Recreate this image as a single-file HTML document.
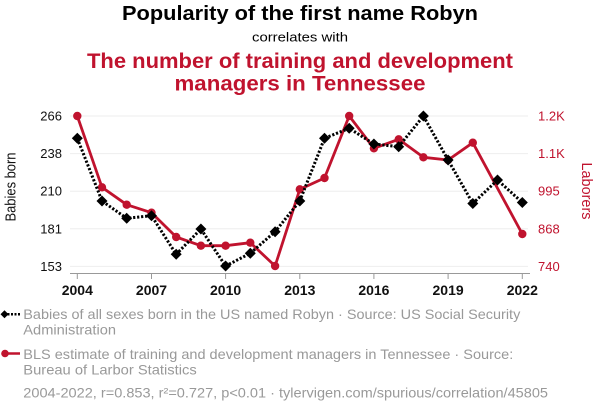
<!DOCTYPE html>
<html><head><meta charset="utf-8"><style>
html,body{margin:0;padding:0;background:#fff;}
svg{display:block;}
text{font-family:"Liberation Sans",Arial,sans-serif;}
</style></head><body>
<svg width="600" height="414" viewBox="0 0 600 414" xmlns="http://www.w3.org/2000/svg">
<rect width="600" height="414" fill="#fff"/>
<text x="300" y="20" text-anchor="middle" font-size="20" font-weight="bold" fill="#000" textLength="356" lengthAdjust="spacingAndGlyphs">Popularity of the first name Robyn</text>
<text x="300" y="41.5" text-anchor="middle" font-size="13" fill="#000" textLength="96" lengthAdjust="spacingAndGlyphs">correlates with</text>
<text x="300" y="68" text-anchor="middle" font-size="21" font-weight="bold" fill="#c0132e" textLength="426" lengthAdjust="spacingAndGlyphs">The number of training and development</text>
<text x="300" y="90.5" text-anchor="middle" font-size="21" font-weight="bold" fill="#c0132e" textLength="251" lengthAdjust="spacingAndGlyphs">managers in Tennessee</text>

<g stroke="#eeeeee" stroke-width="1">
<line x1="70" y1="116" x2="528" y2="116"/>
<line x1="70" y1="153.6" x2="528" y2="153.6"/>
<line x1="70" y1="191.2" x2="528" y2="191.2"/>
<line x1="70" y1="228.8" x2="528" y2="228.8"/>
<line x1="70" y1="266.4" x2="528" y2="266.4"/>
</g>
<g stroke="#999" stroke-width="1">
<line x1="70" y1="273.5" x2="530" y2="273.5"/>
<line x1="77.3" y1="273.5" x2="77.3" y2="279"/>
<line x1="151.5" y1="273.5" x2="151.5" y2="279"/>
<line x1="225.6" y1="273.5" x2="225.6" y2="279"/>
<line x1="299.8" y1="273.5" x2="299.8" y2="279"/>
<line x1="373.9" y1="273.5" x2="373.9" y2="279"/>
<line x1="448.1" y1="273.5" x2="448.1" y2="279"/>
<line x1="522.3" y1="273.5" x2="522.3" y2="279"/>
</g>
<g font-size="13" fill="#111" text-anchor="end">
<text x="62" y="120.5">266</text>
<text x="62" y="158.1">238</text>
<text x="62" y="195.7">210</text>
<text x="62" y="233.3">181</text>
<text x="62" y="270.9">153</text>
</g>
<g font-size="13" fill="#c0132e" text-anchor="start">
<text x="538" y="120.5">1.2K</text>
<text x="538" y="158.1">1.1K</text>
<text x="538" y="195.7">995</text>
<text x="538" y="233.3">868</text>
<text x="538" y="270.9">740</text>
</g>
<g font-size="14" font-weight="bold" fill="#111" text-anchor="middle">
<text x="77.3" y="295">2004</text>
<text x="151.5" y="295">2007</text>
<text x="225.6" y="295">2010</text>
<text x="299.8" y="295">2013</text>
<text x="373.9" y="295">2016</text>
<text x="448.1" y="295">2019</text>
<text x="522.3" y="295">2022</text>
</g>
<text transform="translate(15.5,187) rotate(-90)" text-anchor="middle" font-size="15" fill="#111" textLength="69" lengthAdjust="spacingAndGlyphs">Babies born</text>
<text transform="translate(582,191) rotate(90)" text-anchor="middle" font-size="14.5" fill="#c0132e" textLength="57" lengthAdjust="spacingAndGlyphs">Laborers</text>

<polyline fill="none" stroke="#c0132e" stroke-width="2.8" stroke-linejoin="round" points="77.3,116 102,187.3 126.7,204.7 151.5,212.7 176.2,237 200.9,245.7 225.6,245.7 250.3,242.7 275.1,266 299.8,189.3 324.5,178 349.2,116 373.9,148.3 398.7,139.3 423.4,157.3 448.1,160 472.8,142.7 522.3,234"/>
<g fill="#c0132e">
<circle cx="77.3" cy="116" r="4.2"/><circle cx="102" cy="187.3" r="4.2"/><circle cx="126.7" cy="204.7" r="4.2"/><circle cx="151.5" cy="212.7" r="4.2"/><circle cx="176.2" cy="237" r="4.2"/><circle cx="200.9" cy="245.7" r="4.2"/><circle cx="225.6" cy="245.7" r="4.2"/><circle cx="250.3" cy="242.7" r="4.2"/><circle cx="275.1" cy="266" r="4.2"/><circle cx="299.8" cy="189.3" r="4.2"/><circle cx="324.5" cy="178" r="4.2"/><circle cx="349.2" cy="116" r="4.2"/><circle cx="373.9" cy="148.3" r="4.2"/><circle cx="398.7" cy="139.3" r="4.2"/><circle cx="423.4" cy="157.3" r="4.2"/><circle cx="448.1" cy="160" r="4.2"/><circle cx="472.8" cy="142.7" r="4.2"/><circle cx="522.3" cy="234" r="4.2"/>
</g>

<polyline fill="none" stroke="#000" stroke-width="3" stroke-dasharray="2.2,1.8" points="77.3,138.3 102,201 126.7,218.3 151.5,215.7 176.2,254.3 200.9,229 225.6,266 250.3,253.3 275.1,231.7 299.8,201 324.5,138.3 349.2,128.3 373.9,144 398.7,146.7 423.4,116 448.1,160 472.8,203.5 497.5,180 522.3,202.5"/>
<g fill="#000">
<path d="M77.3,132.8 l5.5,5.5 l-5.5,5.5 l-5.5,-5.5z"/>
<path d="M102,195.5 l5.5,5.5 l-5.5,5.5 l-5.5,-5.5z"/>
<path d="M126.7,212.8 l5.5,5.5 l-5.5,5.5 l-5.5,-5.5z"/>
<path d="M151.5,210.2 l5.5,5.5 l-5.5,5.5 l-5.5,-5.5z"/>
<path d="M176.2,248.8 l5.5,5.5 l-5.5,5.5 l-5.5,-5.5z"/>
<path d="M200.9,223.5 l5.5,5.5 l-5.5,5.5 l-5.5,-5.5z"/>
<path d="M225.6,260.5 l5.5,5.5 l-5.5,5.5 l-5.5,-5.5z"/>
<path d="M250.3,247.8 l5.5,5.5 l-5.5,5.5 l-5.5,-5.5z"/>
<path d="M275.1,226.2 l5.5,5.5 l-5.5,5.5 l-5.5,-5.5z"/>
<path d="M299.8,195.5 l5.5,5.5 l-5.5,5.5 l-5.5,-5.5z"/>
<path d="M324.5,132.8 l5.5,5.5 l-5.5,5.5 l-5.5,-5.5z"/>
<path d="M349.2,122.8 l5.5,5.5 l-5.5,5.5 l-5.5,-5.5z"/>
<path d="M373.9,138.5 l5.5,5.5 l-5.5,5.5 l-5.5,-5.5z"/>
<path d="M398.7,141.2 l5.5,5.5 l-5.5,5.5 l-5.5,-5.5z"/>
<path d="M423.4,110.5 l5.5,5.5 l-5.5,5.5 l-5.5,-5.5z"/>
<path d="M448.1,154.5 l5.5,5.5 l-5.5,5.5 l-5.5,-5.5z"/>
<path d="M472.8,198 l5.5,5.5 l-5.5,5.5 l-5.5,-5.5z"/>
<path d="M497.5,174.5 l5.5,5.5 l-5.5,5.5 l-5.5,-5.5z"/>
<path d="M522.3,197 l5.5,5.5 l-5.5,5.5 l-5.5,-5.5z"/>
</g>

<!-- legend -->
<line x1="4" y1="314.3" x2="20" y2="314.3" stroke="#000" stroke-width="2.5" stroke-dasharray="2,1.5"/>
<path d="M4.5,310.3 l4,4 l-4,4 l-4,-4z" fill="#000"/>
<line x1="4" y1="353.5" x2="20" y2="353.5" stroke="#c0132e" stroke-width="2.5"/>
<circle cx="5" cy="353.5" r="3.8" fill="#c0132e"/>
<g font-size="14" fill="#999">
<text x="23.3" y="319" textLength="497" lengthAdjust="spacingAndGlyphs">Babies of all sexes born in the US named Robyn · Source: US Social Security</text>
<text x="23.3" y="334.3" textLength="92.7" lengthAdjust="spacingAndGlyphs">Administration</text>
<text x="23.3" y="359" textLength="490" lengthAdjust="spacingAndGlyphs">BLS estimate of training and development managers in Tennessee · Source:</text>
<text x="23.3" y="374.3" textLength="173.4" lengthAdjust="spacingAndGlyphs">Bureau of Larbor Statistics</text>
<text x="23.3" y="397.7" textLength="524.7" lengthAdjust="spacingAndGlyphs">2004-2022, r=0.853, r²=0.727, p&lt;0.01 · tylervigen.com/spurious/correlation/45805</text>
</g>
</svg>
</body></html>
